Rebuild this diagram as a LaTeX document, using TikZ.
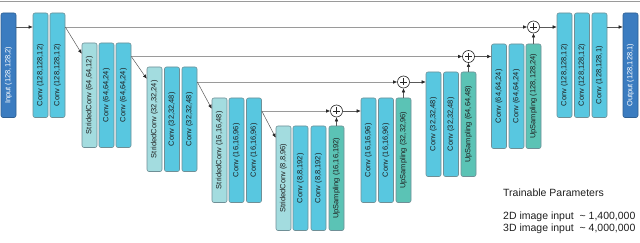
\documentclass[tikz,border=0pt]{standalone}
\usepackage{fontspec}
\setmainfont{Liberation Sans}
\usetikzlibrary{arrows.meta,calc}
\definecolor{inblue}{HTML}{3B7CC0}
\definecolor{inborder}{HTML}{2F5F92}
\definecolor{convc}{HTML}{58C7E0}
\definecolor{stridc}{HTML}{A3DCDF}
\definecolor{upc}{HTML}{5BC3B5}
\definecolor{bordc}{HTML}{6F8F96}
\definecolor{txtc}{HTML}{1E1E1E}
\definecolor{skipc}{HTML}{9A9A9A}
\newcommand\mkblk[5]{\node[#1] (#2) at ({#3+7.5},{-(#4)-52.25}) {#5};}
\begin{document}
\begin{tikzpicture}[x=1pt,y=1pt,
  blk/.style={rotate=90, minimum width=104.5pt, minimum height=15pt, inner sep=0pt,
    rounded corners=2pt, draw=bordc, line width=0.6pt,
    font=\fontsize{7.5}{9}\selectfont, text=txtc},
  convbox/.style={blk, fill=convc},
  stridbox/.style={blk, fill=stridc},
  upbox/.style={blk, fill=upc},
  iobox/.style={blk, fill=inblue, draw=inborder, text=white},
  plusnode/.style={circle, draw=black!85, fill=white, minimum size=12pt, inner sep=0pt, line width=0.6pt,
    path picture={
      \draw[line width=0.7pt] ([yshift=-2.5pt]path picture bounding box.north) -- ([yshift=2.5pt]path picture bounding box.south);
      \draw[line width=0.7pt] ([xshift=2.5pt]path picture bounding box.west) -- ([xshift=-2.5pt]path picture bounding box.east);}},
  arr/.style={draw=black!65, line width=0.5pt, -{Latex[length=4pt,width=3.6pt,color=black!85]}},
  skiparr/.style={draw=skipc, line width=0.6pt, -{Latex[length=4pt,width=3.6pt,color=black!85]}},
  infotext/.style={anchor=west, inner sep=0pt, font=\fontsize{10.5}{12}\selectfont, text=txtc}
]
\useasboundingbox (0,0) rectangle (640,-243);
\draw[skipc, line width=1.2pt] (0,-1.5) -- (640,-1.5);

% level 1 down
\mkblk{iobox}{inp}{1}{13}{Input (128,128,2)\hspace*{20pt}}
\mkblk{convbox}{c11}{33}{13}{Conv (128,128,12)\hspace*{20pt}}
\mkblk{convbox}{c12}{50}{13}{Conv (128,128,12)\hspace*{20pt}}
% level 2 down
\mkblk{stridbox}{s2}{82}{43}{StridedConv (64,64,12)}
\mkblk{convbox}{c21}{99}{43}{Conv (64,64,24)}
\mkblk{convbox}{c22}{116}{43}{Conv (64,64,24)}
% level 3 down
\mkblk{stridbox}{s3}{147}{67}{StridedConv (32,32,24)}
\mkblk{convbox}{c31}{164.5}{67}{Conv (32,32,48)}
\mkblk{convbox}{c32}{182}{67}{Conv (32,32,48)}
% level 4 down
\mkblk{stridbox}{s4}{212}{98}{StridedConv (16,16,48)}
\mkblk{convbox}{c41}{229}{98}{Conv (16,16,96)}
\mkblk{convbox}{c42}{246.5}{98}{Conv (16,16,96)}
% level 5
\mkblk{stridbox}{s5}{276}{126}{StridedConv (8,8,96)}
\mkblk{convbox}{c51}{293}{126}{Conv (8,8,192)}
\mkblk{convbox}{c52}{311}{126}{Conv (8,8,192)}
\mkblk{upbox}{u5}{329}{126}{UpSampling (16,16,192)}
% level 4 up
\mkblk{convbox}{d41}{361}{98}{Conv (16,16,96)}
\mkblk{convbox}{d42}{378.5}{98}{Conv (16,16,96)}
\mkblk{upbox}{u4}{396}{98}{UpSampling (32,32,96)}
% level 3 up
\mkblk{convbox}{d31}{426}{72}{Conv (32,32,48)}
\mkblk{convbox}{d32}{443.5}{72}{Conv (32,32,48)}
\mkblk{upbox}{u3}{461}{72}{UpSampling (64,64,48)}
% level 2 up
\mkblk{convbox}{d21}{491.5}{44}{Conv (64,64,24)}
\mkblk{convbox}{d22}{509}{44}{Conv (64,64,24)}
\mkblk{upbox}{u2}{526}{44}{UpSampling (128,128,24)}
% level 1 up
\mkblk{convbox}{d11}{557}{13}{Conv (128,128,12)\hspace*{20pt}}
\mkblk{convbox}{d12}{574.5}{13}{Conv (128,128,12)\hspace*{20pt}}
\mkblk{convbox}{d13}{592}{13}{Conv (128,128,1)\hspace*{20pt}}
\mkblk{iobox}{outp}{623}{13}{Output (128,128,1)\hspace*{20pt}}

% adders
\node[plusnode] (p4) at (336.5,-111) {};
\node[plusnode] (p3) at (403.5,-82) {};
\node[plusnode] (p2) at (468.5,-56.5) {};
\node[plusnode] (p1) at (533.5,-27) {};

% input / output arrows
\draw[arr] (inp.south |- p1) -- (c11.north |- p1);
\draw[arr] (d13.south |- p1) -- (outp.north |- p1);

% skip connections
\draw[skiparr] (c12.south |- p1) -- (p1);
\draw[skiparr] (c22.south |- p2) -- (p2);
\draw[skiparr] (c32.south |- p3) -- (p3);
\draw[skiparr] (c42.south |- p4) -- (p4);

% down diagonals
\draw[arr] (c12.south |- p1) -- ([yshift=-11pt]s2.north east);
\draw[arr] (c22.south |- p2) -- ([yshift=-12pt]s3.north east);
\draw[arr] (c32.south |- p3) -- ([yshift=-11pt]s4.north east);
\draw[arr] (c42.south |- p4) -- ([yshift=-12pt]s5.north east);

% upsampling into adders
\draw[arr] (u5.east) -- (p4);
\draw[arr] (u4.east) -- (p3);
\draw[arr] (u3.east) -- (p2);
\draw[arr] (u2.east) -- (p1);

% adders to next conv
\draw[arr] (p4) -- (d41.north |- p4);
\draw[arr] (p3) -- (d31.north |- p3);
\draw[arr] (p2) -- (d21.north |- p2);
\draw[arr] (p1) -- (d11.north |- p1);

% info text
\node[infotext] (t1) at (503,-193) {Trainable Parameters};
\node[infotext] (t2) at (503,-217) {2D image input\ \ \textasciitilde\ 1,400,000};
\node[infotext] (t3) at (503,-229) {3D image input\ \ \textasciitilde\ 4,000,000};
\end{tikzpicture}
\end{document}
